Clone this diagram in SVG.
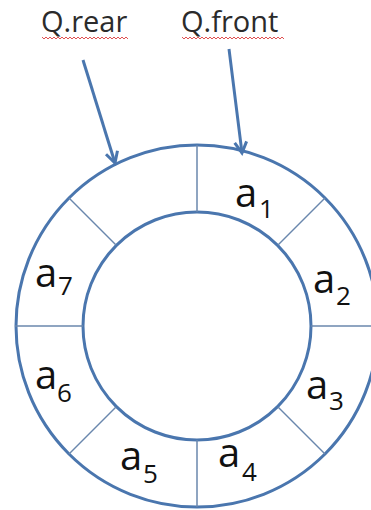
<svg xmlns="http://www.w3.org/2000/svg" width="371" height="510" viewBox="0 0 371 510">
<style>
.ring{fill:none;stroke:#4A76AE;stroke-width:3}
.div{stroke:#6A87AD;stroke-width:1.5}
.lbl{font-family:"Open Sans","DejaVu Sans",sans-serif;fill:#111}
.m{font-size:40px}
.s{font-size:26px}
.q{font-family:"Open Sans","DejaVu Sans",sans-serif;font-size:29px;fill:#2b2b2b}
.sq{fill:none;stroke:#E05050;stroke-width:1}
.arr{stroke:#4A76AE;stroke-width:3;fill:none}
</style>
<defs>
<marker id="ah" markerUnits="userSpaceOnUse" markerWidth="16" markerHeight="16" viewBox="0 0 16 16" refX="13" refY="8" orient="auto">
<path d="M2,2 L13,8 L2,14" fill="none" stroke="#4A76AE" stroke-width="3"/>
</marker>
</defs>
<rect width="371" height="510" fill="#fff"/>
<g id="ring">
<circle class="ring" cx="197" cy="326" r="181"/>
<circle class="ring" cx="197" cy="326" r="114"/>
<line class="div" x1="197" y1="145" x2="197" y2="212"/>
<line class="div" x1="197" y1="440" x2="197" y2="507"/>
<line class="div" x1="15" y1="326" x2="83" y2="326"/>
<line class="div" x1="311" y1="326" x2="371" y2="326"/>
<line class="div" x1="69" y1="198" x2="116" y2="245"/>
<line class="div" x1="325" y1="198" x2="278" y2="245"/>
<line class="div" x1="69" y1="454" x2="116" y2="407"/>
<line class="div" x1="325" y1="454" x2="278" y2="407"/>
</g>
<g id="a1"><text class="lbl m" x="235" y="207">a</text><text class="lbl s" x="259" y="218">1</text></g>
<g id="a2"><text class="lbl m" x="313" y="293">a</text><text class="lbl s" x="336" y="305">2</text></g>
<g id="a3"><text class="lbl m" x="306" y="399">a</text><text class="lbl s" x="329" y="410">3</text></g>
<g id="a4"><text class="lbl m" x="218" y="467">a</text><text class="lbl s" x="242" y="481">4</text></g>
<g id="a5"><text class="lbl m" x="120" y="470">a</text><text class="lbl s" x="143" y="483">5</text></g>
<g id="a6"><text class="lbl m" x="35" y="389">a</text><text class="lbl s" x="57" y="402">6</text></g>
<g id="a7"><text class="lbl m" x="35" y="287">a</text><text class="lbl s" x="58" y="295">7</text></g>
<g id="qrear">
<text class="q" x="41" y="32">Q.rear</text>
<path class="sq" d="M42,37 l2,2 l2,-2 l2,2 l2,-2 l2,2 l2,-2 l2,2 l2,-2 l2,2 l2,-2 l2,2 l2,-2 l2,2 l2,-2 l2,2 l2,-2 l2,2 l2,-2 l2,2 l2,-2 l2,2 l2,-2 l2,2 l2,-2 l2,2 l2,-2 l2,2 l2,-2 l2,2 l2,-2 l2,2 l2,-2 l2,2 l2,-2 l2,2 l2,-2 l2,2 l2,-2 l2,2 l2,-2 l2,2 l2,-2 l2,2"/>
</g>
<g id="qfront">
<text class="q" x="181" y="32">Q.front</text>
<path class="sq" d="M182,37 l2,2 l2,-2 l2,2 l2,-2 l2,2 l2,-2 l2,2 l2,-2 l2,2 l2,-2 l2,2 l2,-2 l2,2 l2,-2 l2,2 l2,-2 l2,2 l2,-2 l2,2 l2,-2 l2,2 l2,-2 l2,2 l2,-2 l2,2 l2,-2 l2,2 l2,-2 l2,2 l2,-2 l2,2 l2,-2 l2,2 l2,-2 l2,2 l2,-2 l2,2 l2,-2 l2,2 l2,-2 l2,2 l2,-2 l2,2 l2,-2 l2,2 l2,-2 l2,2 l2,-2 l2,2 l2,-2 l2,2"/>
</g>
<g id="connectors">
<line class="arr" x1="83" y1="60" x2="115" y2="163" marker-end="url(#ah)"/>
<line class="arr" x1="229" y1="49" x2="242" y2="153" marker-end="url(#ah)"/>
</g>
</svg>
